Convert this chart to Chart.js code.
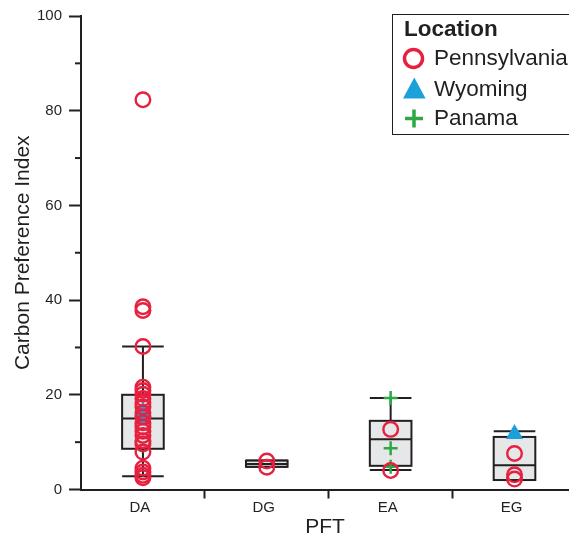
<!DOCTYPE html>
<html>
<head>
<meta charset="utf-8">
<script src="https://cdn.jsdelivr.net/npm/chart.js@4.4.0/dist/chart.umd.min.js"></script>
<style>
    body { margin: 0; background: #fff; overflow: hidden; }
    #wrap { position: relative; width: 569px; height: 537px; overflow: hidden; }
    #legendBox { position: absolute; left: 392px; top: 14px; width: 220px; height: 119px; border: 1.5px solid #231f20; }
    .lg { position: absolute; font-family: 'Liberation Sans', Arial, sans-serif; font-size: 22.5px; line-height: 22px; color: #231f20; white-space: nowrap; }
    .lg.title { font-weight: bold; }
    #legendSymbols { position: absolute; left: 0; top: 0; }
</style>
</head>
<body>
<div id="wrap">
    <canvas id="cpiChart"></canvas>
    <div id="legendBox"></div>
    <svg id="legendSymbols" width="569" height="140"></svg>
</div>
<script>
// categories (PFT) and box summary per category
const categories = ['DA', 'DG', 'EA', 'EG'];
const whiskerLow  = [2.8, 4.8, 4.1, 2.0];
const quartile1   = [8.6, 4.8, 5.0, 2.0];
const medians     = [15.0, 5.4, 10.6, 5.1];
const quartile3   = [20.0, 6.1, 14.5, 11.1];
const whiskerHigh = [30.2, 6.1, 19.3, 12.3];

// individual samples, by location and PFT
const pennDA = [82.3, 38.6, 37.8, 30.2, 21.6, 20.9, 20.1, 19.2, 18.3, 17.4, 16.2, 15.3,
                14.1, 13.2, 12.3, 11.4, 10.3, 9.6, 7.9, 4.5, 3.7, 3.0, 2.5];
const pennDG = [6.0, 4.7];
const pennEA = [12.7, 4.0];
const pennEG = [7.6, 3.1, 2.2];
const wyomingDA = [16.5, 14.8];
const wyomingEG = [11.7];
const panamaEA = [19.3, 8.7, 4.8];

const yTicks = [0, 20, 40, 60, 80, 100];

const ink = '#231f20';
const fontFamily = "'Liberation Sans', Arial, sans-serif";
const colors = {
    penn: '#e8203f',
    wyoming: '#1ba0dc',
    panama: '#2ea844',
    boxFill: '#e6e7e8'
};

// turn a list of values into points sitting on a category
const toPoints = (cat, values) => values.map(v => ({ x: categories.indexOf(cat), y: v }));

// Box + whisker drawing, under the points
const boxPlugin = {
    id: 'boxes',
    beforeDatasetsDraw(chart) {
        const { ctx, scales: { x, y } } = chart;
        const half = (x.getPixelForValue(0.168) - x.getPixelForValue(0));
        ctx.save();
        ctx.strokeStyle = ink;
        ctx.lineWidth = 2;
        categories.forEach((c, i) => {
            const cx = x.getPixelForValue(i);
            const lo = y.getPixelForValue(whiskerLow[i]);
            const q1 = y.getPixelForValue(quartile1[i]);
            const md = y.getPixelForValue(medians[i]);
            const q3 = y.getPixelForValue(quartile3[i]);
            const hi = y.getPixelForValue(whiskerHigh[i]);

            ctx.beginPath();
            ctx.moveTo(cx, hi); ctx.lineTo(cx, q3);
            ctx.moveTo(cx, q1); ctx.lineTo(cx, lo);
            ctx.moveTo(cx - half, hi); ctx.lineTo(cx + half, hi);
            ctx.moveTo(cx - half, lo); ctx.lineTo(cx + half, lo);
            ctx.stroke();

            ctx.fillStyle = colors.boxFill;
            ctx.fillRect(cx - half, q3, half * 2, q1 - q3);
            ctx.strokeRect(cx - half, q3, half * 2, q1 - q3);

            ctx.beginPath();
            ctx.moveTo(cx - half, md); ctx.lineTo(cx + half, md);
            ctx.stroke();
        });
        ctx.restore();
    }
};

// short minor ticks on the y axis (every 10)
const minorTicks = {
    id: 'minorTicks',
    afterDraw(chart) {
        const { ctx, chartArea, scales: { y } } = chart;
        ctx.save();
        ctx.strokeStyle = ink;
        ctx.lineWidth = 2;
        y.ticks.forEach(t => {
            if (t.value % 20 === 0) return;
            const py = y.getPixelForValue(t.value);
            ctx.beginPath();
            ctx.moveTo(chartArea.left - 6, py);
            ctx.lineTo(chartArea.left, py);
            ctx.stroke();
        });
        ctx.restore();
    }
};

const datasets = [
    {
        label: 'Pennsylvania',
        data: [].concat(toPoints('DA', pennDA), toPoints('DG', pennDG), toPoints('EA', pennEA), toPoints('EG', pennEG)),
        pointStyle: 'circle',
        pointRadius: 7.3,
        pointBorderWidth: 2.4,
        pointBorderColor: colors.penn,
        pointBackgroundColor: 'rgba(0,0,0,0)',
        borderColor: colors.penn,
        backgroundColor: 'rgba(0,0,0,0)'
    },
    {
        label: 'Wyoming',
        data: [].concat(toPoints('DA', wyomingDA), toPoints('EG', wyomingEG)),
        pointStyle: 'triangle',
        pointRadius: 10,
        pointBorderWidth: 0,
        pointBackgroundColor: colors.wyoming,
        backgroundColor: colors.wyoming,
        borderColor: colors.wyoming
    },
    {
        label: 'Panama',
        data: toPoints('EA', panamaEA),
        pointStyle: 'cross',
        pointRadius: 7,
        pointBorderWidth: 2.5,
        pointBorderColor: colors.panama,
        borderColor: colors.panama
    }
];

const cpiChart = new Chart(document.getElementById('cpiChart'), {
    type: 'scatter',
    data: { datasets: datasets },
    options: {
        responsive: true,
        maintainAspectRatio: false,
        animation: false,
        layout: {
            autoPadding: false,
            padding: { top: 15, right: 0, bottom: 0, left: 0 }
        },
        plugins: {
            legend: { display: false },
            tooltip: { enabled: false }
        },
        scales: {
            x: {
                type: 'linear',
                min: -0.5,
                max: 3.44,
                afterBuildTicks: s => {
                    s.ticks = [0, 0.5, 1, 1.5, 2, 2.5, 3].map(v => ({ value: v }));
                },
                afterFit: s => {
                    s.height = 47.5;
                    s.paddingRight = 0;
                    s.paddingLeft = 0;
                },
                ticks: {
                    autoSkip: false,
                    maxRotation: 0,
                    padding: 0,
                    labelOffset: -3,
                    color: ink,
                    font: { family: fontFamily, size: 15 },
                    callback: v => Number.isInteger(v) ? categories[v] : ''
                },
                grid: {
                    drawOnChartArea: false,
                    tickLength: 9,
                    tickWidth: 2,
                    tickColor: c => Number.isInteger(c.tick.value) ? 'rgba(0,0,0,0)' : ink
                },
                border: { color: ink, width: 2 },
                title: {
                    display: true,
                    text: 'PFT',
                    color: ink,
                    font: { family: fontFamily, size: 21, lineHeight: 0.9 },
                    padding: { top: 0, bottom: 0 }
                }
            },
            y: {
                min: 0,
                max: 100,
                afterFit: s => { s.width = 81; },
                ticks: {
                    stepSize: 10,
                    padding: 7,
                    color: ink,
                    font: { family: fontFamily, size: 15 },
                    callback: v => yTicks.includes(v) ? v : ''
                },
                grid: {
                    drawOnChartArea: false,
                    tickLength: 12,
                    tickWidth: 2,
                    tickColor: c => yTicks.includes(c.tick.value) ? ink : 'rgba(0,0,0,0)'
                },
                border: { color: ink, width: 2 },
                title: {
                    display: true,
                    text: 'Carbon Preference Index',
                    color: ink,
                    font: { family: fontFamily, size: 21 },
                    padding: { top: 11, bottom: 0 }
                }
            }
        }
    },
    plugins: [boxPlugin, minorTicks]
});

// HTML legend built from the datasets
const wrap = document.getElementById('wrap');
const svg = document.getElementById('legendSymbols');
const addText = (txt, left, top, cls) => {
    const d = document.createElement('div');
    d.className = 'lg ' + (cls || '');
    d.style.left = left + 'px';
    d.style.top = top + 'px';
    d.textContent = txt;
    wrap.appendChild(d);
};
addText('Location', 404, 18, 'title');

const symbolSvg = {
    circle: (cy, col) => `<circle cx="413.5" cy="${cy}" r="9" fill="none" stroke="${col}" stroke-width="3.5"/>`,
    triangle: (cy, col) => `<polygon points="414.3,${cy - 11} 403,${cy + 10} 425.6,${cy + 10}" fill="${col}"/>`,
    cross: (cy, col) => `<path d="M405,${cy} H423 M414,${cy - 9} V${cy + 9}" stroke="${col}" stroke-width="3.5"/>`
};
const rowTops = [47, 78, 107];
const rowSymbolY = [58.5, 88.5, 118.5];
datasets.forEach((ds, i) => {
    addText(ds.label, 434, rowTops[i]);
    svg.innerHTML += symbolSvg[ds.pointStyle](rowSymbolY[i], ds.pointBorderColor || ds.pointBackgroundColor);
});
</script>
</body>
</html>
